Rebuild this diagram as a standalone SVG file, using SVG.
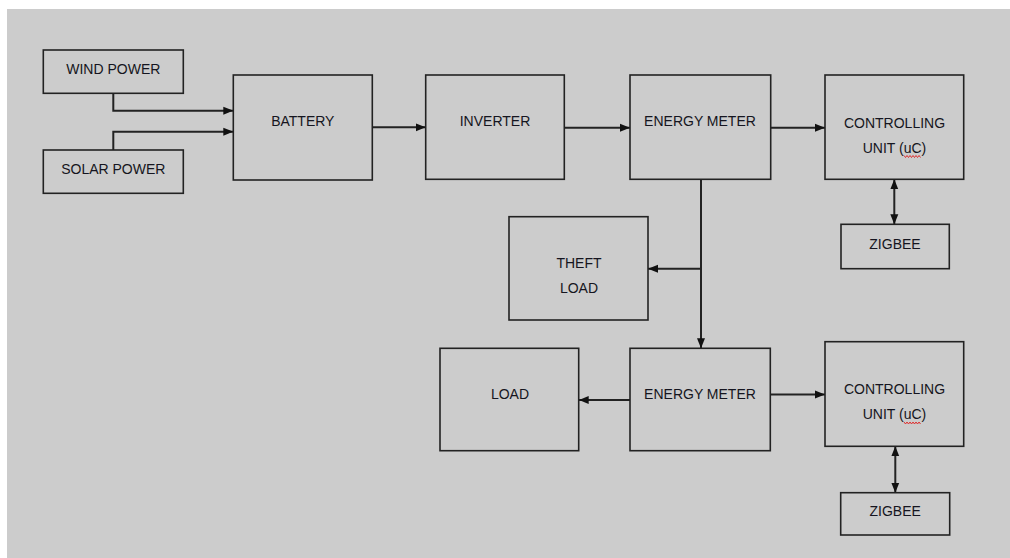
<svg xmlns="http://www.w3.org/2000/svg" width="1010" height="558" viewBox="0 0 1010 558">
<style>
.box{fill:none;stroke:#222;stroke-width:1.6}
.t{font-family:"Liberation Sans",Arial,sans-serif;font-size:14px;fill:#151520;text-anchor:middle}
.ln{fill:none;stroke:#222;stroke-width:2}
.sq{fill:none;stroke:#e02020;stroke-width:0.9}
</style>
<defs>
<marker id="ah" markerUnits="userSpaceOnUse" markerWidth="10" markerHeight="10" viewBox="0 0 10 10" refX="10" refY="5" orient="auto-start-reverse">
<path d="M0,1 L10,5 L0,9 Z" fill="#111"/>
</marker>
</defs>
<rect x="0" y="0" width="1010" height="558" fill="#ffffff"/>
<rect x="7" y="9" width="1003" height="549" fill="#cccccc"/>

<g id="connectors">
<path class="ln" d="M113.3,93.3 V110.7 H233.3" marker-end="url(#ah)"/>
<path class="ln" d="M113.3,150 V131.7 H233.3" marker-end="url(#ah)"/>
<path class="ln" d="M372.3,127.3 H425.7" marker-end="url(#ah)"/>
<path class="ln" d="M564.3,127.7 H630" marker-end="url(#ah)"/>
<path class="ln" d="M770.7,127.7 H825" marker-end="url(#ah)"/>
<path class="ln" d="M894.3,179.3 V224.3" marker-start="url(#ah)" marker-end="url(#ah)"/>
<path class="ln" d="M701,179.3 V348.3" marker-end="url(#ah)"/>
<path class="ln" d="M701,268.7 H648" marker-end="url(#ah)"/>
<path class="ln" d="M630,400 H578.7" marker-end="url(#ah)"/>
<path class="ln" d="M770.3,394.5 H825" marker-end="url(#ah)"/>
<path class="ln" d="M895.3,446.3 V492.7" marker-start="url(#ah)" marker-end="url(#ah)"/>
</g>

<g id="wind">
<rect class="box" x="43.3" y="50" width="140" height="43.3"/>
<text class="t" x="113.3" y="74">WIND POWER</text>
</g>
<g id="solar">
<rect class="box" x="43.3" y="150" width="140" height="43.3"/>
<text class="t" x="113.3" y="174">SOLAR POWER</text>
</g>
<g id="battery">
<rect class="box" x="233.3" y="75" width="139" height="105"/>
<text class="t" x="302.8" y="126">BATTERY</text>
</g>
<g id="inverter">
<rect class="box" x="425.7" y="75" width="138.6" height="104.3"/>
<text class="t" x="495" y="126">INVERTER</text>
</g>
<g id="meter1">
<rect class="box" x="630" y="75" width="140.7" height="104.3"/>
<text class="t" x="700" y="126">ENERGY METER</text>
</g>
<g id="control1">
<rect class="box" x="825" y="75" width="138.7" height="104.3"/>
<text class="t" x="894.5" y="127.7">CONTROLLING</text>
<text class="t" x="894.5" y="152.7">UNIT (uC)</text>
<path class="sq" d="M904,155.5 l1.5,2 l1.5,-2 l1.5,2 l1.5,-2 l1.5,2 l1.5,-2 l1.5,2 l1.5,-2 l1.5,2 l1.5,-2 l1.5,2"/>
</g>
<g id="zigbee1">
<rect class="box" x="841" y="224.3" width="108.3" height="44.4"/>
<text class="t" x="895" y="249">ZIGBEE</text>
</g>
<g id="theft">
<rect class="box" x="509" y="216.7" width="139" height="103.3"/>
<text class="t" x="579" y="267.7">THEFT</text>
<text class="t" x="579" y="292.7">LOAD</text>
</g>
<g id="load">
<rect class="box" x="440" y="348.3" width="138.7" height="102.4"/>
<text class="t" x="510" y="399">LOAD</text>
</g>
<g id="meter2">
<rect class="box" x="630" y="348.3" width="140.3" height="102.4"/>
<text class="t" x="700" y="399">ENERGY METER</text>
</g>
<g id="control2">
<rect class="box" x="825" y="341.7" width="138.7" height="104.6"/>
<text class="t" x="894.5" y="394">CONTROLLING</text>
<text class="t" x="894.5" y="419.3">UNIT (uC)</text>
<path class="sq" d="M904,422 l1.5,2 l1.5,-2 l1.5,2 l1.5,-2 l1.5,2 l1.5,-2 l1.5,2 l1.5,-2 l1.5,2 l1.5,-2 l1.5,2"/>
</g>
<g id="zigbee2">
<rect class="box" x="840.7" y="492.7" width="109" height="42.3"/>
<text class="t" x="895.2" y="515.7">ZIGBEE</text>
</g>
</svg>
